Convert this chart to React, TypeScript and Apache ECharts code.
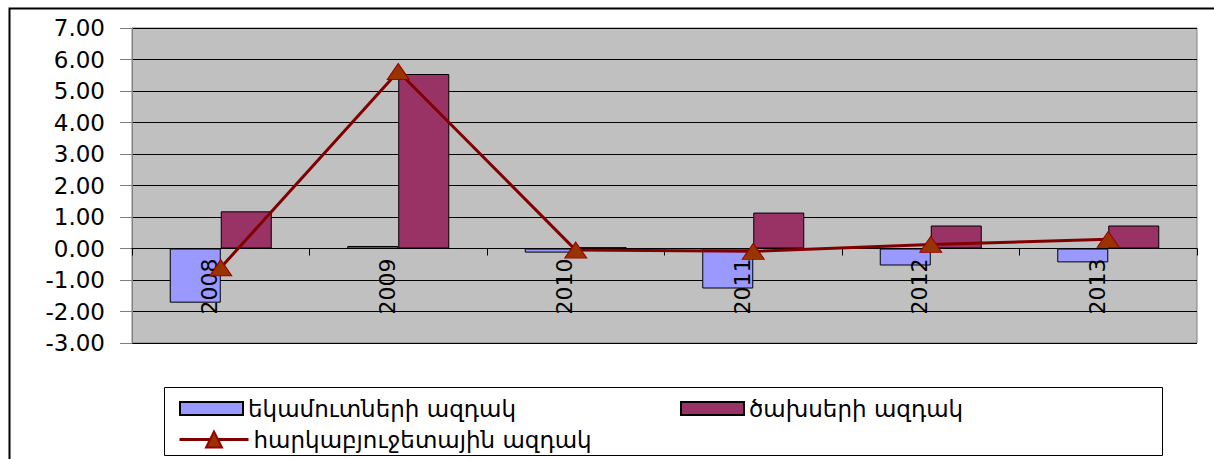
import React, { useEffect, useRef } from "react";
import * as echarts from "echarts";

const years = ["2008", "2009", "2010", "2011", "2012", "2013"];
const revenueName = "եկամուտների ազդակ";
const expenditureName = "ծախսերի ազդակ";
const fiscalName = "հարկաբյուջետային ազդակ";
const revenue = [-1.72, 0.08, -0.13, -1.27, -0.54, -0.44];
const expenditure = [1.18, 5.54, 0.04, 1.14, 0.73, 0.73];
const fiscal = [-0.61, 5.62, -0.05, -0.09, 0.13, 0.29];

const FONT = "'DejaVu Sans', 'Liberation Sans', sans-serif";

const legendText = { fontFamily: FONT, fontSize: 23, color: "#000" };

export default function App() {
  const ref = useRef<HTMLDivElement>(null);
  useEffect(() => {
    document.body.style.margin = "0";
    const chart = echarts.init(ref.current!, null, { renderer: "svg" });
    chart.setOption({
      animation: false,
      backgroundColor: "#ffffff",
      grid: {
        left: 132,
        top: 28,
        right: 17,
        bottom: 116,
        show: true,
        backgroundColor: "#C0C0C0",
        borderColor: "#808080",
        borderWidth: 1,
      },
      graphic: [
        {
          type: "rect",
          left: 7,
          top: 6,
          shape: { width: 1230, height: 480 },
          style: { fill: "none", stroke: "#000", lineWidth: 2 },
          silent: true,
          z: -1,
        },
        {
          type: "rect",
          left: 164,
          top: 387,
          shape: { width: 998, height: 68 },
          style: { fill: "#fff", stroke: "#000", lineWidth: 1 },
          silent: true,
          z: 0,
        },
      ],
      legend: [
        {
          data: [{ name: revenueName, icon: "rect" }],
          left: 174,
          top: 392,
          itemWidth: 63,
          itemHeight: 13,
          textStyle: legendText,
          z: 5,
        },
        {
          data: [{ name: expenditureName, icon: "rect" }],
          left: 675,
          top: 392,
          itemWidth: 63,
          itemHeight: 13,
          textStyle: legendText,
          z: 5,
        },
        {
          data: [fiscalName],
          left: 173,
          top: 423,
          itemWidth: 69,
          itemHeight: 20,
          lineStyle: { width: 3, color: "#800000" },
          textStyle: legendText,
          z: 5,
        },
      ],
      xAxis: {
        type: "category",
        data: years,
        offset: -94.5,
        z: 10,
        axisLine: { onZero: false, lineStyle: { color: "#000", width: 1 } },
        axisTick: { show: true, length: 7, lineStyle: { color: "#000" } },
        axisLabel: {
          rotate: 90,
          margin: 10,
          fontFamily: FONT,
          fontSize: 22,
          color: "#000",
          verticalAlign: "bottom",
        },
        splitLine: { show: false },
      },
      yAxis: {
        type: "value",
        min: -3,
        max: 7,
        interval: 1,
        axisLine: { show: true, lineStyle: { color: "#808080" } },
        axisTick: { show: true, length: 12, lineStyle: { color: "#808080" } },
        axisLabel: {
          margin: 27,
          fontFamily: FONT,
          fontSize: 23,
          color: "#000",
          formatter: (v: number) => v.toFixed(2),
        },
        splitLine: { show: true, lineStyle: { color: "#000", width: 1 } },
      },
      series: [
        {
          name: revenueName,
          type: "bar",
          data: revenue,
          barWidth: 51,
          barGap: "0%",
          itemStyle: { color: "#9999FF", borderColor: "#000", borderWidth: 1 },
        },
        {
          name: expenditureName,
          type: "bar",
          data: expenditure,
          barWidth: 51,
          itemStyle: { color: "#993366", borderColor: "#000", borderWidth: 1 },
        },
        {
          name: fiscalName,
          type: "line",
          data: fiscal,
          symbol: "triangle",
          symbolSize: [22, 16],
          showAllSymbol: true,
          lineStyle: { color: "#800000", width: 3 },
          itemStyle: { color: "#993300", borderColor: "#990000", borderWidth: 1 },
          z: 12,
        },
      ],
    });
    return () => chart.dispose();
  }, []);
  return <div ref={ref} style={{ width: 1214, height: 459 }} />;
}
